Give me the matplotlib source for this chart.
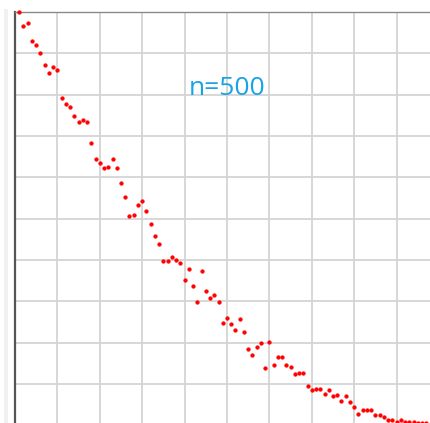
import matplotlib
matplotlib.use("Agg")
import matplotlib.pyplot as plt
from matplotlib.patches import Rectangle

x_vals = [0.1, 0.2, 0.3, 0.4, 0.5, 0.6, 0.7, 0.8, 0.9, 1.0,
          1.1, 1.2, 1.3, 1.4, 1.5, 1.6, 1.7, 1.8, 1.9, 2.0,
          2.1, 2.2, 2.3, 2.4, 2.5, 2.6, 2.7, 2.8, 2.9, 3.0,
          3.1, 3.2, 3.3, 3.4, 3.5, 3.6, 3.7, 3.8, 3.9, 4.0,
          4.1, 4.2, 4.3, 4.4, 4.5, 4.6, 4.7, 4.8, 4.9, 5.0,
          5.1, 5.2, 5.3, 5.4, 5.5, 5.6, 5.7, 5.8, 5.9, 6.0,
          6.1, 6.2, 6.3, 6.4, 6.5, 6.6, 6.7, 6.8, 6.9, 7.0,
          7.1, 7.2, 7.3, 7.4, 7.5, 7.6, 7.7, 7.8, 7.9, 8.0,
          8.1, 8.2, 8.3, 8.4, 8.5, 8.6, 8.7, 8.8, 8.9, 9.0,
          9.1, 9.2, 9.3, 9.4, 9.5, 9.6, 9.7]
y_vals = [9.99, 9.65, 9.73, 9.29, 9.21, 9.02, 8.73, 8.52, 8.68, 8.60,
          7.91, 7.77, 7.69, 7.49, 7.33, 7.38, 7.33, 6.83, 6.45, 6.35,
          6.22, 6.26, 6.45, 6.23, 5.86, 5.52, 5.06, 5.08, 5.34, 5.44,
          5.19, 4.87, 4.57, 4.40, 3.98, 3.98, 4.08, 4.00, 3.94, 3.52,
          3.78, 3.36, 2.99, 3.73, 3.26, 3.07, 3.16, 2.98, 2.48, 2.60,
          2.46, 2.30, 2.58, 2.26, 1.86, 1.70, 1.90, 1.99, 1.40, 2.02,
          1.45, 1.65, 1.65, 1.46, 1.42, 1.24, 1.26, 1.26, 0.95, 0.86,
          0.88, 0.88, 0.75, 0.86, 0.72, 0.74, 0.60, 0.70, 0.56, 0.44,
          0.28, 0.38, 0.38, 0.38, 0.26, 0.26, 0.20, 0.14, 0.14, 0.08,
          0.14, 0.075, 0.075, 0.09, 0.06, 0.06, 0.05]
label_text = "n=500"
grid_ticks = [0, 1, 2, 3, 4, 5, 6, 7, 8, 9, 10]

W, H = 430, 423
fig = plt.figure(figsize=(W / 100, H / 100), dpi=100)
fig.patch.set_facecolor("white")

# faint strip at the far left
fig.patches.append(Rectangle((4 / W, 0), 3.5 / W, (H - 9) / H,
                             transform=fig.transFigure, facecolor="#f1f1f1",
                             edgecolor="none", zorder=0))

ax = fig.add_axes([15 / W, (423 - 425.4) / H, (439 - 15) / W, (425.4 - 12) / H])
ax.set_xlim(0, 10)
ax.set_ylim(0, 10)
ax.set_xticks(grid_ticks)
ax.set_yticks(grid_ticks)
ax.tick_params(length=0, labelbottom=False, labelleft=False)
ax.grid(True, color="#d4d4d4", linewidth=1.3)
ax.set_axisbelow(True)

for side in ["right", "bottom"]:
    ax.spines[side].set_visible(False)
ax.spines["left"].set_color("#555555")
ax.spines["left"].set_linewidth(1.6)
ax.spines["top"].set_color("#8a8a8a")
ax.spines["top"].set_linewidth(1.0)

ax.plot(x_vals, y_vals, linestyle="none", marker="o", markersize=2.7,
        markerfacecolor="#ff0000", markeredgecolor="#ff0000",
        markeredgewidth=0.3, clip_on=False, zorder=3)

ax.text(5.0, 8.0, label_text, ha="center", va="baseline",
        fontsize=19, color="#18a3e6", family=["Open Sans", "DejaVu Sans"])

fig.savefig("out.png", dpi=100)
